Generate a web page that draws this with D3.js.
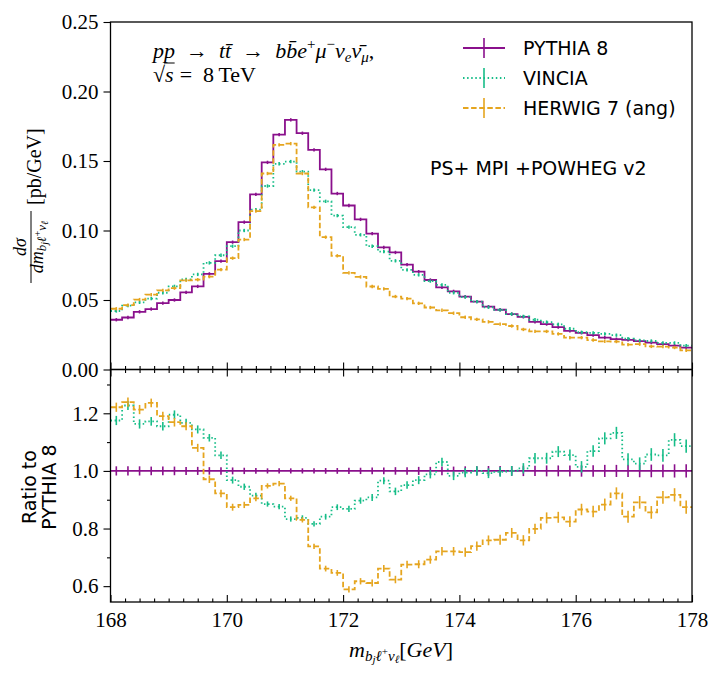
<!DOCTYPE html>
<html>
<head>
<meta charset="utf-8">
<script src="https://cdn.jsdelivr.net/npm/d3@7"></script>
<style>
  body { margin: 0; background: #fff; }
  .serif { font-family: "Liberation Serif", "DejaVu Serif", serif; }
  .sans { font-family: "DejaVu Sans", sans-serif; }
</style>
</head>
<body>
<div id="chart"></div>
<script>
// bin edges in GeV
const binEdges = [168.0,168.2,168.4,168.6,168.8,169.0,169.2,169.4,169.6,169.8,
  170.0,170.2,170.4,170.6,170.8,171.0,171.2,171.4,171.6,171.8,
  172.0,172.2,172.4,172.6,172.8,173.0,173.2,173.4,173.6,173.8,
  174.0,174.2,174.4,174.6,174.8,175.0,175.2,175.4,175.6,175.8,
  176.0,176.2,176.4,176.6,176.8,177.0,177.2,177.4,177.6,177.8,178.0];

// dsigma/dm [pb/GeV]
const pythia = [0.0358,0.0374,0.0415,0.0435,0.0478,0.0500,0.0555,0.0598,0.0688,0.0780,
  0.0916,0.1060,0.1260,0.1490,0.1690,0.1796,0.1700,0.1580,0.1440,0.1266,
  0.1180,0.1080,0.0977,0.0878,0.0842,0.0755,0.0704,0.0644,0.0591,0.0562,
  0.0524,0.0488,0.0452,0.0430,0.0399,0.0379,0.0343,0.0327,0.0305,0.0278,
  0.0264,0.0247,0.0230,0.0218,0.0213,0.0204,0.0194,0.0182,0.0172,0.0158];
const vincia = [0.0421,0.0459,0.0483,0.0510,0.0552,0.0598,0.0648,0.0684,0.0767,0.0822,
  0.0887,0.1000,0.1150,0.1320,0.1480,0.1496,0.1423,0.1290,0.1210,0.1107,
  0.1024,0.0969,0.0887,0.0848,0.0782,0.0717,0.0681,0.0636,0.0609,0.0552,
  0.0521,0.0488,0.0448,0.0429,0.0399,0.0382,0.0358,0.0341,0.0325,0.0293,
  0.0268,0.0264,0.0256,0.0247,0.0222,0.0209,0.0205,0.0192,0.0191,0.0172];
const herwig = [0.0437,0.0463,0.0503,0.0538,0.0569,0.0585,0.0641,0.0646,0.0668,0.0719,
  0.0801,0.0935,0.1140,0.1410,0.1616,0.1625,0.1410,0.1166,0.0952,0.0818,
  0.0695,0.0666,0.0597,0.0580,0.0525,0.0510,0.0476,0.0446,0.0426,0.0405,
  0.0376,0.0361,0.0343,0.0327,0.0313,0.0288,0.0274,0.0274,0.0256,0.0229,
  0.0229,0.0212,0.0203,0.0201,0.0179,0.0182,0.0166,0.0165,0.0158,0.0138];
const topErr = 0.0012;

// ratio to PYTHIA 8
const ratioP = [1,1,1,1,1,1,1,1,1,1, 1,1,1,1,1,1,1,1,1,1, 1,1,1,1,1,1,1,1,1,1,
  1,1,1,1,1,1,1,1,1,1, 1,1,1,1,1,1,1,1,1,1];
const ratioV = [1.175,1.227,1.163,1.172,1.155,1.195,1.167,1.144,1.115,1.054,
  0.968,0.945,0.914,0.885,0.876,0.833,0.837,0.816,0.841,0.874,
  0.868,0.897,0.908,0.966,0.929,0.951,0.968,0.988,1.031,0.983,
  0.994,1.000,0.992,0.997,1.000,1.009,1.044,1.044,1.067,1.055,
  1.014,1.069,1.113,1.132,1.040,1.025,1.057,1.054,1.108,1.086];
const ratioH = [1.221,1.239,1.213,1.236,1.190,1.169,1.155,1.080,0.971,0.922,
  0.874,0.882,0.905,0.948,0.956,0.905,0.830,0.738,0.661,0.646,
  0.589,0.617,0.611,0.661,0.623,0.675,0.676,0.692,0.721,0.721,
  0.718,0.739,0.759,0.761,0.785,0.759,0.799,0.837,0.839,0.824,
  0.866,0.859,0.883,0.922,0.841,0.891,0.856,0.908,0.917,0.874];
const ratioErr = [0.016,0.016,0.016,0.015,0.015,0.015,0.014,0.014,0.013,0.013,
  0.012,0.011,0.010,0.009,0.009,0.009,0.009,0.009,0.010,0.010,
  0.011,0.011,0.012,0.012,0.013,0.013,0.014,0.014,0.015,0.015,
  0.016,0.016,0.017,0.017,0.017,0.018,0.018,0.019,0.019,0.019,
  0.020,0.020,0.021,0.021,0.021,0.022,0.022,0.022,0.023,0.023];

const xTicks = [168, 170, 172, 174, 176, 178];
const yTopTicks = [0, 0.05, 0.10, 0.15, 0.20, 0.25];
const yRatioTicks = [0.6, 0.8, 1.0, 1.2];
const yRatioMinor = [0.7, 0.9, 1.1, 1.3];

const series = [
  { name: "PYTHIA 8", top: pythia, ratio: ratioP, color: "#8a108c", dash: null },
  { name: "VINCIA", top: vincia, ratio: ratioV, color: "#17bd88", dash: "1.5,2.6" },
  { name: "HERWIG 7 (ang)", top: herwig, ratio: ratioH, color: "#e5a51f", dash: "5.5,2.6" }
];

const W = 723, H = 680;
const left = 110.5, right = 692;
const topY0 = 22, topY1 = 369.5, botY1 = 602;

const svg = d3.select("#chart").append("svg").attr("width", W).attr("height", H);

const x = d3.scaleLinear().domain([168, 178]).range([left, right]);
const yTop = d3.scaleLinear().domain([0, 0.25]).range([topY1, topY0]);
const yBot = d3.scaleLinear().domain([0.545, 1.352]).range([botY1, topY1]);

function stepPts(vals) {
  const pts = vals.map((v, i) => [binEdges[i], v]);
  pts.push([binEdges[binEdges.length - 1], vals[vals.length - 1]]);
  return pts;
}

function drawPanel(yScale, key, errFn) {
  const g = svg.append("g");
  series.forEach(s => {
    const line = d3.line().x(d => x(d[0])).y(d => yScale(d[1])).curve(d3.curveStepAfter);
    g.append("path")
      .attr("d", line(stepPts(s[key])))
      .attr("fill", "none")
      .attr("stroke", s.color)
      .attr("stroke-width", 1.8)
      .attr("stroke-dasharray", s.dash);
    g.selectAll(null)
      .data(s[key])
      .enter()
      .append("line")
      .attr("x1", (d, i) => x((binEdges[i] + binEdges[i + 1]) / 2))
      .attr("x2", (d, i) => x((binEdges[i] + binEdges[i + 1]) / 2))
      .attr("y1", (d, i) => yScale(d - errFn(i)))
      .attr("y2", (d, i) => yScale(d + errFn(i)))
      .attr("stroke", s.color)
      .attr("stroke-width", 1.6);
  });
}

drawPanel(yTop, "top", () => topErr);
drawPanel(yBot, "ratio", i => ratioErr[i]);

// axes
function styleAxis(g) {
  g.select(".domain").remove();
  g.selectAll(".tick line").attr("stroke", "#000").attr("stroke-width", 1.1);
  g.selectAll("text").attr("class", "serif").style("font-size", "21px").attr("fill", "#000");
}
const minorX = d3.range(168, 178.001, 0.25).filter(v => Math.abs(v / 2 - Math.round(v / 2)) > 1e-6);

// top panel
svg.append("g").attr("transform", `translate(${left},0)`)
  .call(d3.axisLeft(yTop).tickValues(yTopTicks).tickFormat(d3.format(".2f")).tickSize(7).tickPadding(5))
  .call(styleAxis);
svg.append("g").attr("transform", `translate(0,${topY1})`)
  .call(d3.axisBottom(x).tickValues(xTicks).tickFormat("").tickSize(-7))
  .call(styleAxis);
svg.append("g").attr("transform", `translate(0,${topY1})`)
  .call(d3.axisBottom(x).tickValues(minorX).tickFormat("").tickSize(-3.5))
  .call(styleAxis);

// ratio panel
svg.append("g").attr("transform", `translate(${left},0)`)
  .call(d3.axisLeft(yBot).tickValues(yRatioTicks).tickFormat(d3.format(".1f")).tickSize(7).tickPadding(5))
  .call(styleAxis);
svg.append("g").attr("transform", `translate(${left},0)`)
  .call(d3.axisLeft(yBot).tickValues(yRatioMinor).tickFormat("").tickSize(3.5))
  .call(styleAxis);
svg.append("g").attr("transform", `translate(0,${topY1})`)
  .call(d3.axisTop(x).tickValues(xTicks).tickFormat("").tickSize(-7))
  .call(styleAxis);
svg.append("g").attr("transform", `translate(0,${topY1})`)
  .call(d3.axisTop(x).tickValues(minorX).tickFormat("").tickSize(-3.5))
  .call(styleAxis);
svg.append("g").attr("transform", `translate(0,${botY1})`)
  .call(d3.axisBottom(x).tickValues(xTicks).tickFormat(d3.format("d")).tickSize(-7).tickPadding(10))
  .call(styleAxis);
svg.append("g").attr("transform", `translate(0,${botY1})`)
  .call(d3.axisBottom(x).tickValues(minorX).tickFormat("").tickSize(-3.5))
  .call(styleAxis);

// frames
[[topY0, topY1], [topY1, botY1]].forEach(([a, b]) => {
  svg.append("rect").attr("x", left).attr("y", a).attr("width", right - left).attr("height", b - a)
    .attr("fill", "none").attr("stroke", "#000").attr("stroke-width", 1.3);
});

// rich text helper: parts {t, it, size, dy}
function rich(sel, parts) {
  parts.forEach(p => {
    sel.append("tspan")
      .attr("dy", p.dy || 0)
      .style("font-style", p.it ? "italic" : "normal")
      .style("font-size", (p.size || 22) + "px")
      .text(p.t);
  });
  return sel;
}

// annotation
const ann = svg.append("text").attr("class", "serif").attr("x", 153).attr("y", 58).attr("fill", "#000");
rich(ann, [
  { t: "pp", it: true }, { t: "\u2002→\u2002" }, { t: "tt\u0304", it: true }, { t: "\u2002→\u2002" },
  { t: "bb\u0304e", it: true }, { t: "+", size: 15, dy: -9 }, { t: "μ", it: true, dy: 9 },
  { t: "−", size: 15, dy: -9 }, { t: "ν", it: true, dy: 9 }, { t: "e", it: true, size: 15, dy: 4 },
  { t: "ν\u0304", it: true, dy: -4 }, { t: "μ", it: true, size: 15, dy: 4 }, { t: ",", dy: -4 }
]);
const sq = svg.append("text").attr("class", "serif").attr("x", 153).attr("y", 82)
  .style("font-size", "22px").text("√");
const sqW = sq.node().getComputedTextLength();
const sx = svg.append("text").attr("class", "serif").attr("x", 153 + sqW).attr("y", 82)
  .style("font-size", "22px").style("font-style", "italic").text("s");
const sW = sx.node().getComputedTextLength();
svg.append("line").attr("x1", 153 + sqW - 1).attr("x2", 153 + sqW + sW + 1)
  .attr("y1", 63).attr("y2", 63).attr("stroke", "#000").attr("stroke-width", 1);
svg.append("text").attr("class", "serif").attr("x", 153 + sqW + sW + 6).attr("y", 82)
  .style("font-size", "22px").text("=\u20028\u2009TeV");

// legend
series.forEach((s, i) => {
  const yy = 48 + i * 30;
  svg.append("line").attr("x1", 463).attr("x2", 505).attr("y1", yy).attr("y2", yy)
    .attr("stroke", s.color).attr("stroke-width", 1.8).attr("stroke-dasharray", s.dash);
  svg.append("line").attr("x1", 484).attr("x2", 484).attr("y1", yy - 10).attr("y2", yy + 10)
    .attr("stroke", s.color).attr("stroke-width", 1.6);
  svg.append("text").attr("class", "sans").attr("x", 523).attr("y", yy + 7)
    .style("font-size", "19px").attr("fill", "#000").text(s.name);
});
svg.append("text").attr("class", "sans").attr("x", 430).attr("y", 175)
  .style("font-size", "19px").text("PS+ MPI +POWHEG v2");

// y label top (fraction)
const yl = svg.append("g").attr("transform", "translate(31,247) rotate(-90)");
rich(yl.append("text").attr("class", "serif").attr("x", 0).attr("y", -5).attr("text-anchor", "middle"), [
  { t: "dσ", it: true, size: 18 }
]);
rich(yl.append("text").attr("class", "serif").attr("x", 0).attr("y", 12).attr("text-anchor", "middle"), [
  { t: "dm", it: true, size: 18 }, { t: "b", it: true, size: 13, dy: 3 }, { t: "j", it: true, size: 10, dy: 2 },
  { t: "ℓ", it: true, size: 13, dy: -2 }, { t: "+", size: 10, dy: -5 }, { t: "ν", it: true, size: 13, dy: 5 },
  { t: "ℓ", it: true, size: 10, dy: 2 }
]);
yl.append("line").attr("x1", -36).attr("x2", 36).attr("y1", 0).attr("y2", 0)
  .attr("stroke", "#000").attr("stroke-width", 1);
yl.append("text").attr("class", "serif").attr("x", 42).attr("y", 10).style("font-size", "20px").text("[pb/GeV]");

// y label ratio
const yr = svg.append("g").attr("transform", "translate(0,487) rotate(-90)");
yr.append("text").attr("class", "sans").attr("x", 0).attr("y", 36).attr("text-anchor", "middle")
  .style("font-size", "19px").text("Ratio to");
yr.append("text").attr("class", "sans").attr("x", 0).attr("y", 56).attr("text-anchor", "middle")
  .style("font-size", "19px").text("PYTHIA 8");

// x label
const xl = svg.append("text").attr("class", "serif").attr("x", 401).attr("y", 657).attr("text-anchor", "middle");
rich(xl, [
  { t: "m", it: true, size: 22 }, { t: "b", it: true, size: 15, dy: 4 }, { t: "j", it: true, size: 11, dy: 2 },
  { t: "ℓ", it: true, size: 15, dy: -2 }, { t: "+", size: 11, dy: -6 }, { t: "ν", it: true, size: 15, dy: 6 },
  { t: "ℓ", it: true, size: 11, dy: 2 }, { t: "[", size: 22, dy: -6 }, { t: "GeV", it: true, size: 22 },
  { t: "]", size: 22 }
]);
</script>
</body>
</html>
